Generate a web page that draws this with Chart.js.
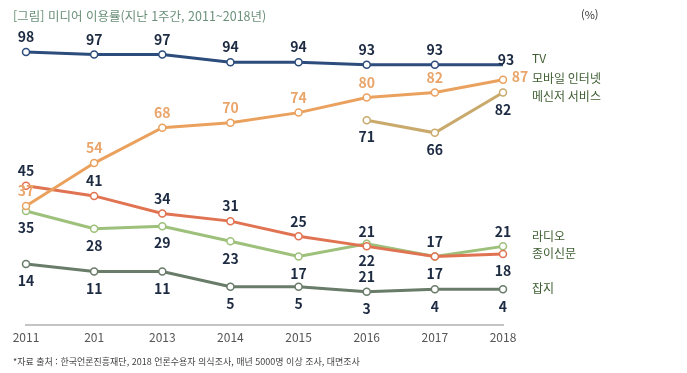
<!DOCTYPE html>
<html lang="ko">
<head>
<meta charset="utf-8">
<script src="https://cdn.jsdelivr.net/npm/chart.js@4"></script>
<style>
body{margin:0;background:#fff;font-family:"Noto Sans CJK KR","Noto Sans",sans-serif;}
#wrap{position:relative;width:687px;height:373px;overflow:hidden;}
canvas{position:absolute;left:0;top:0;}
.title{position:absolute;left:13px;top:6px;font-size:12.5px;color:#6b9079;white-space:nowrap;}
.unit{position:absolute;left:581px;top:6px;font-size:11px;color:#333;}
.note{position:absolute;left:13px;top:355px;font-size:9px;color:#444;white-space:nowrap;}
</style>
</head>
<body>
<div id="wrap">
  <canvas id="myChart" width="687" height="373"></canvas>
  <div class="title">[그림] 미디어 이용률(지난 1주간, 2011~2018년)</div>
  <div class="unit">(%)</div>
  <div class="note">*자료 출처 : 한국언론진흥재단, 2018 언론수용자 의식조사, 매년 5000명 이상 조사, 대면조사</div>
</div>
<script>
const ctx = document.getElementById('myChart');

// 데이터
const yearLabels = ['2011', '201', '2013', '2014', '2015', '2016', '2017', '2018'];
const tv = [98, 97, 97, 94, 94, 93, 93, 93];
const mobile = [37, 54, 68, 70, 74, 80, 82, 87];
const messenger = [null, null, null, null, null, 71, 66, 82];
const newspaper = [45, 41, 34, 31, 25, 21, 17, 18];
const radio = [35, 28, 29, 23, 17, 22, 17, 21];
const magazine = [14, 11, 11, 5, 5, 3, 4, 4];
// 원본 그림에 있는 잘못 붙은 숫자 라벨
const extraLabels = [{ series: 5, index: 5, text: '21' }];

// 라벨 위치: a=위, b=아래, r=오른쪽, t=끝
const offsets = { a: [0, -15], b: [0, 17], r: [17, -3], t: [3, -5] };
const dark = '#1d2b42';

function line(label, data, color, pos, labelColor, legendDy) {
    return {
        label: label,
        data: data,
        borderColor: color,
        borderWidth: 3,
        pointRadius: 3.5,
        pointHoverRadius: 3.5,
        pointBackgroundColor: '#fff',
        pointBorderColor: color,
        pointBorderWidth: 1.5,
        tension: 0,
        clip: false,
        spanGaps: false,
        labelPos: pos,
        labelColor: labelColor,
        legendDy: legendDy
    };
}

const sets = [
    line('TV', tv, '#2c4c7c', ['a','a','a','a','a','a','a','t'], dark, -6),
    line('모바일 인터넷', mobile, '#eba15e', ['a','a','a','a','a','a','a','r'], '#e9a56a', -1),
    line('메신저 서비스', messenger, '#c9aa6c', ['b','b','b','b','b','b','b','b'], dark, 4),
    line('종이신문', newspaper, '#e07352', ['a','a','a','a','a','a','a','b'], dark, -1),
    line('라디오', radio, '#9dc07a', ['b','b','b','b','b','b','b','a'], dark, -10),
    line('잡지', magazine, '#697b69', ['b','b','b','b','b','b','b','b'], dark, -1)
];
sets[0].pointRadius = [3.5, 3.5, 3.5, 3.5, 3.5, 3.5, 3.5, 0];

const labelPlugin = {
    id: 'labelPlugin',
    afterDatasetsDraw(chart) {
        const c = chart.ctx;
        c.save();
        c.font = 'bold 14px "Noto Sans CJK KR", "Noto Sans", sans-serif';
        c.textAlign = 'center';
        c.textBaseline = 'middle';
        chart.data.datasets.forEach((ds, i) => {
            const meta = chart.getDatasetMeta(i);
            meta.data.forEach((pt, j) => {
                if (ds.data[j] == null) return;
                const o = offsets[ds.labelPos[j]];
                c.fillStyle = ds.labelColor;
                c.fillText(String(ds.data[j]), pt.x + o[0], pt.y + o[1]);
            });
        });
        extraLabels.forEach(e => {
            const pt = chart.getDatasetMeta(e.series).data[e.index];
            c.fillStyle = dark;
            c.fillText(e.text, pt.x, pt.y + offsets.a[1]);
        });
        // 오른쪽 시리즈 이름
        c.font = '12px "Noto Sans CJK KR", "Noto Sans", sans-serif';
        c.textAlign = 'left';
        c.fillStyle = '#3e5d31';
        chart.data.datasets.forEach((ds, i) => {
            const meta = chart.getDatasetMeta(i);
            const last = meta.data[meta.data.length - 1];
            c.fillText(ds.label, chart.chartArea.right + 29, last.y + ds.legendDy);
        });
        c.restore();
    }
};

new Chart(ctx, {
    type: 'line',
    data: {
        labels: yearLabels,
        datasets: sets
    },
    options: {
        responsive: false,
        animation: false,
        layout: {
            padding: { left: 26, right: 184, top: 47, bottom: 30 }
        },
        plugins: {
            legend: { display: false },
            tooltip: { enabled: false }
        },
        scales: {
            x: {
                offset: false,
                grid: { display: false },
                border: { display: true, color: '#c4c4c4', width: 2 },
                ticks: {
                    color: '#555',
                    padding: -2,
                    maxRotation: 0,
                    autoSkip: false,
                    font: { size: 12, family: '"Noto Sans CJK KR", "Noto Sans", sans-serif' }
                }
            },
            y: {
                display: false,
                min: -10,
                max: 100
            }
        }
    },
    plugins: [labelPlugin]
});
</script>
</body>
</html>
